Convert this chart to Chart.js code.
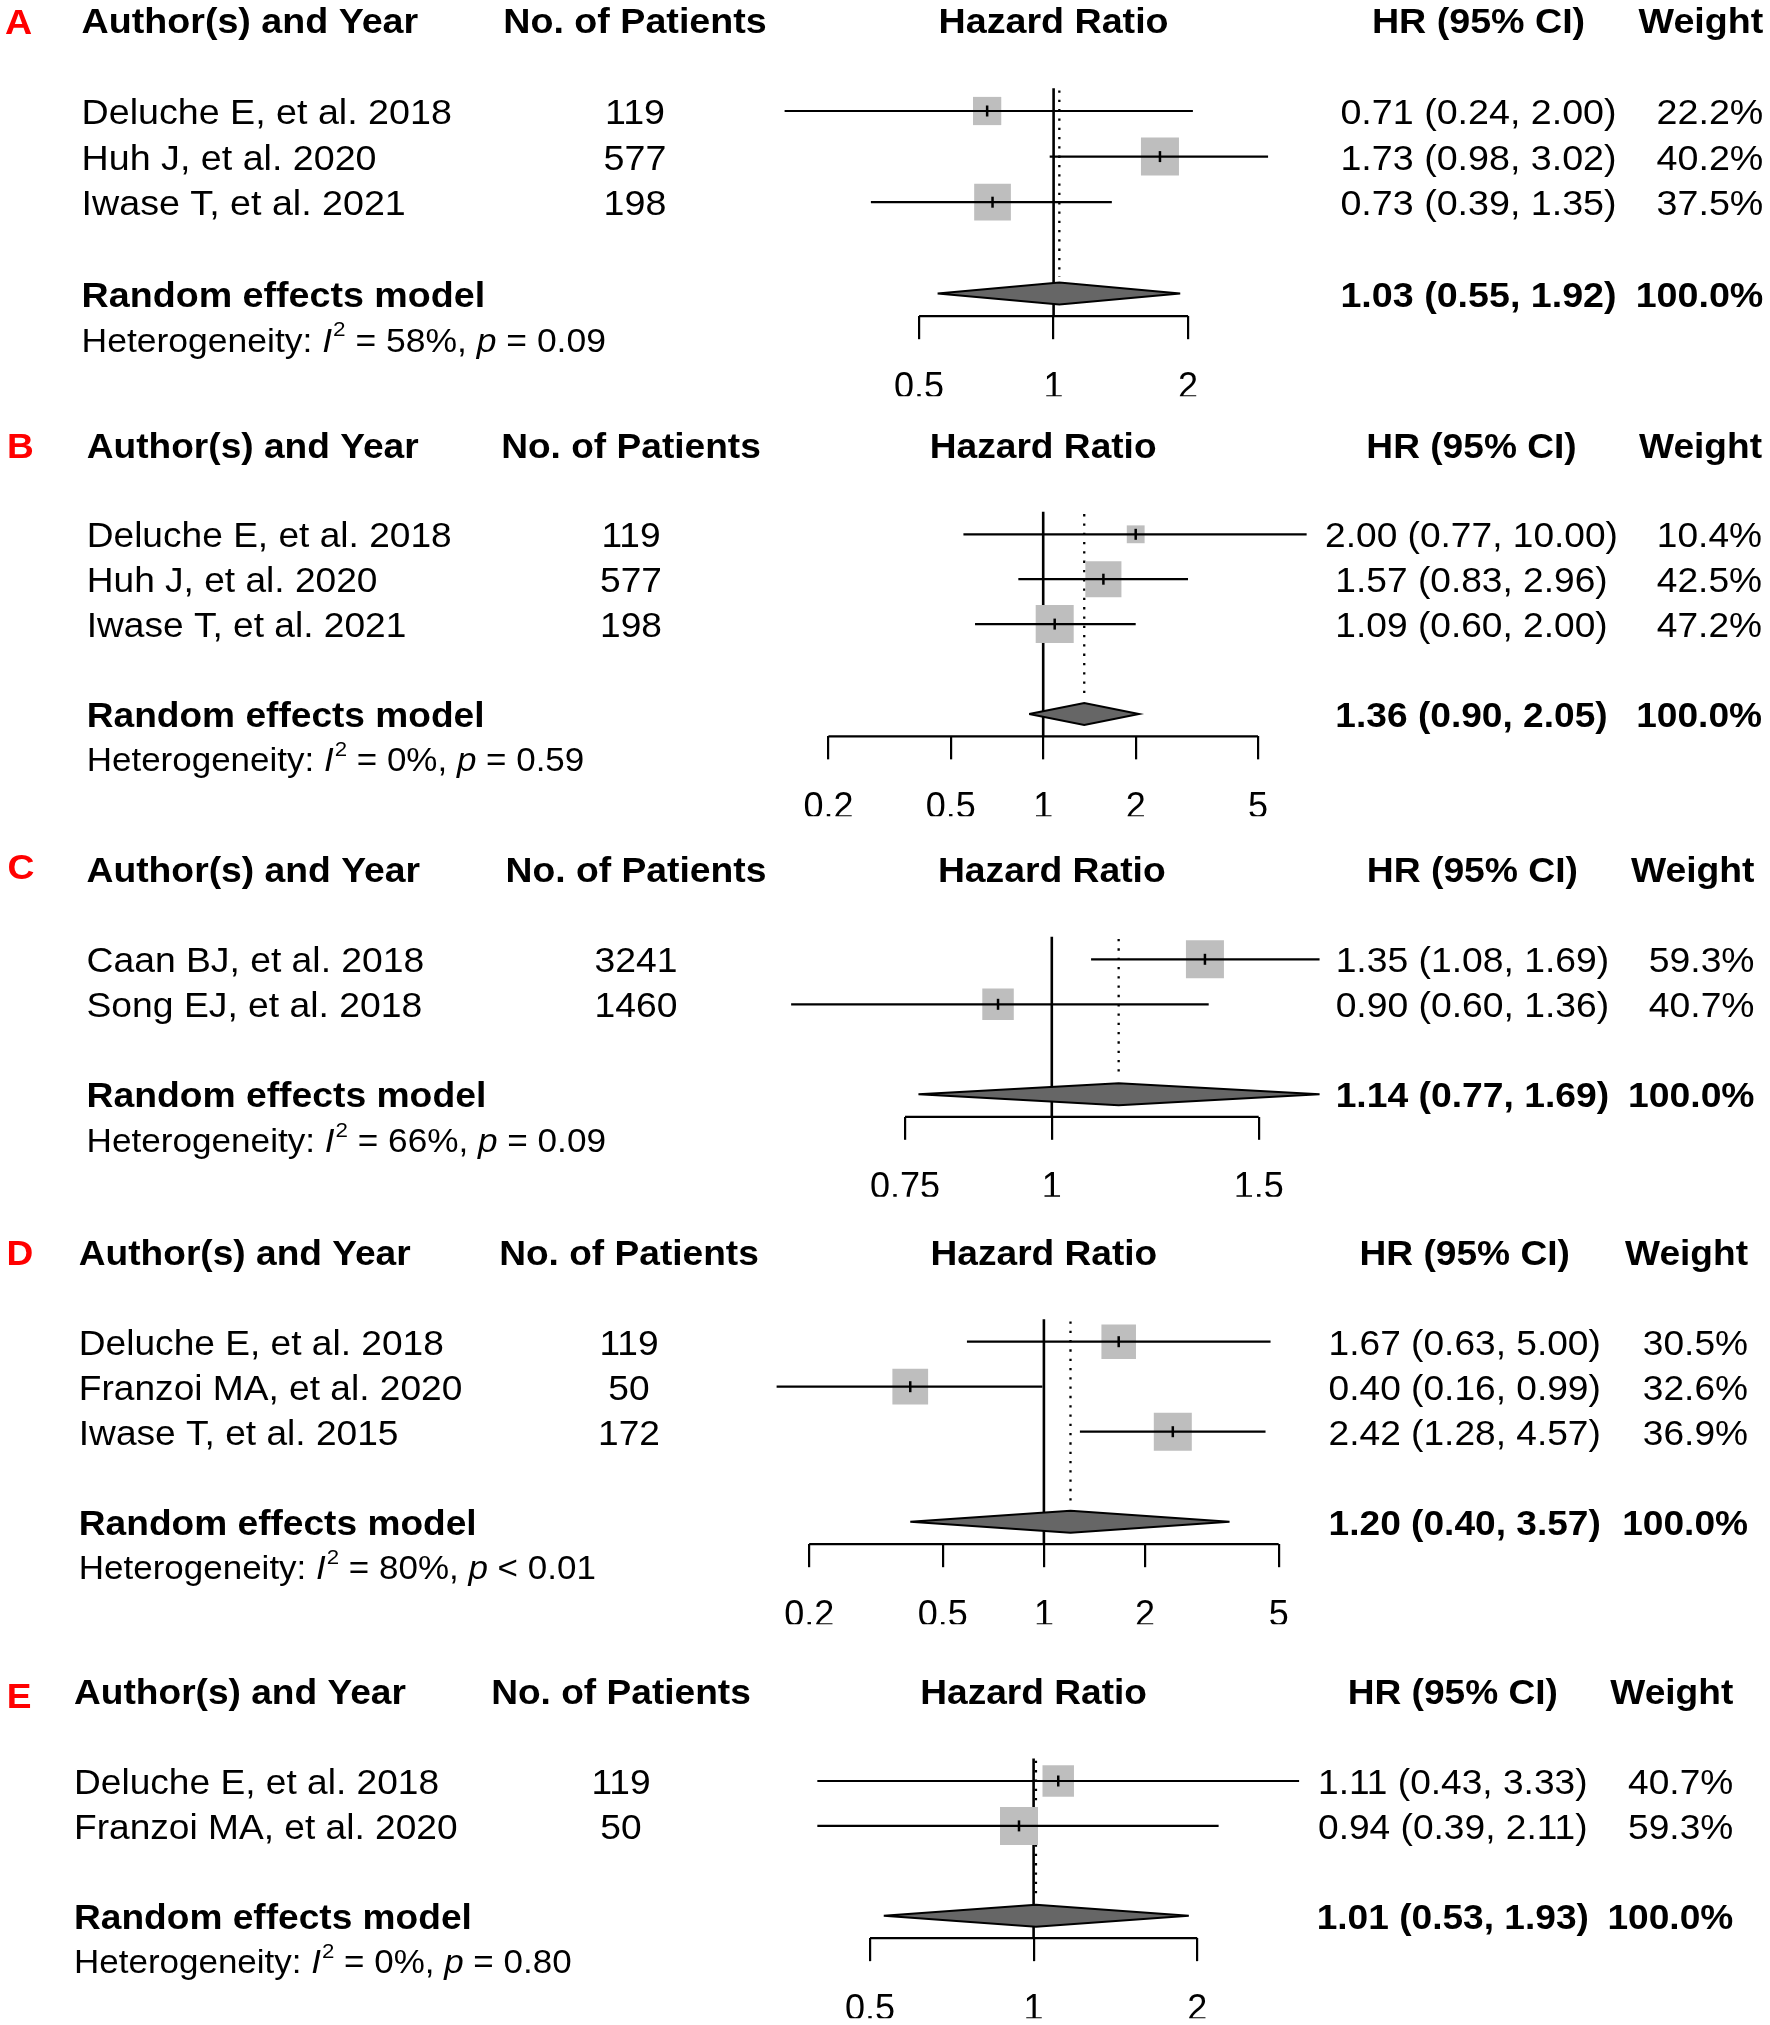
<!DOCTYPE html>
<html><head><meta charset="utf-8">
<script src="https://cdn.jsdelivr.net/npm/chart.js@4.4.1/dist/chart.umd.min.js"></script>
<style>
html,body{margin:0;padding:0;background:#fff;}
#wrap{position:relative;width:1770px;height:2025px;background:#fff;overflow:hidden;}
#wrap canvas{position:absolute;left:0;}
</style></head>
<body><div id="wrap"></div>
<script>
// ---------------- DATA ----------------
// Panel A
const studiesA = ["Deluche E, et al. 2018", "Huh J, et al. 2020", "Iwase T, et al. 2021"];
const patientsA = [119, 577, 198];
const hrA = [0.71, 1.73, 0.73];
const lowerA = [0.25, 0.98, 0.39];
const upperA = [2.05, 3.02, 1.35];
const weightA = [22.2, 40.2, 37.5];
const ciTextA = ["0.71 (0.24, 2.00)", "1.73 (0.98, 3.02)", "0.73 (0.39, 1.35)"];
const pooledA = [1.03, 0.55, 1.92];
const pooledTextA = "1.03 (0.55, 1.92)";
const hetA = ["58%", "=", "0.09"];
const ticksA = [0.5, 1, 2];
const tickLabelsA = ["0.5", "1", "2"];

// Panel B
const studiesB = ["Deluche E, et al. 2018", "Huh J, et al. 2020", "Iwase T, et al. 2021"];
const patientsB = [119, 577, 198];
const hrB = [2.00, 1.57, 1.09];
const lowerB = [0.55, 0.83, 0.60];
const upperB = [7.2, 2.96, 2.00];
const weightB = [10.4, 42.5, 47.2];
const ciTextB = ["2.00 (0.77, 10.00)", "1.57 (0.83, 2.96)", "1.09 (0.60, 2.00)"];
const pooledB = [1.36, 0.90, 2.05];
const pooledTextB = "1.36 (0.90, 2.05)";
const hetB = ["0%", "=", "0.59"];
const ticksB = [0.2, 0.5, 1, 2, 5];
const tickLabelsB = ["0.2", "0.5", "1", "2", "5"];

// Panel C
const studiesC = ["Caan BJ, et al. 2018", "Song EJ, et al. 2018"];
const patientsC = [3241, 1460];
const hrC = [1.35, 0.90];
const lowerC = [1.08, 0.60];
const upperC = [1.69, 1.36];
const weightC = [59.3, 40.7];
const ciTextC = ["1.35 (1.08, 1.69)", "0.90 (0.60, 1.36)"];
const pooledC = [1.14, 0.77, 1.69];
const pooledTextC = "1.14 (0.77, 1.69)";
const hetC = ["66%", "=", "0.09"];
const ticksC = [0.75, 1, 1.5];
const tickLabelsC = ["0.75", "1", "1.5"];

// Panel D
const studiesD = ["Deluche E, et al. 2018", "Franzoi MA, et al. 2020", "Iwase T, et al. 2015"];
const patientsD = [119, 50, 172];
const hrD = [1.67, 0.40, 2.42];
const lowerD = [0.59, 0.16, 1.28];
const upperD = [4.73, 0.99, 4.57];
const weightD = [30.5, 32.6, 36.9];
const ciTextD = ["1.67 (0.63, 5.00)", "0.40 (0.16, 0.99)", "2.42 (1.28, 4.57)"];
const pooledD = [1.20, 0.40, 3.57];
const pooledTextD = "1.20 (0.40, 3.57)";
const hetD = ["80%", "<", "0.01"];
const ticksD = [0.2, 0.5, 1, 2, 5];
const tickLabelsD = ["0.2", "0.5", "1", "2", "5"];

// Panel E
const studiesE = ["Deluche E, et al. 2018", "Franzoi MA, et al. 2020"];
const patientsE = [119, 50];
const hrE = [1.11, 0.94];
const lowerE = [0.40, 0.40];
const upperE = [3.08, 2.19];
const weightE = [40.7, 59.3];
const ciTextE = ["1.11 (0.43, 3.33)", "0.94 (0.39, 2.11)"];
const pooledE = [1.01, 0.53, 1.93];
const pooledTextE = "1.01 (0.53, 1.93)";
const hetE = ["0%", "=", "0.80"];
const ticksE = [0.5, 1, 2];
const tickLabelsE = ["0.5", "1", "2"];

// ---------------- LAYOUT (page pixels) ----------------
const layoutA = {top:0,    height:425, y0:19.8,   dy:45.6, xOne:1053.6, perDoubling:134.5, xmin:0.22, xmax:3.5,  letterX:5,   letterDy:1.4, authorX:81.6, npX:635, hrX:1478.5, wX:1763.3, sx:1.075};
const layoutB = {top:425,  height:420, y0:444.5,  dy:44.9, xOne:1043.2, perDoubling:92.5,  xmin:0.15, xmax:8,    letterX:7,   letterDy:0,   authorX:86.7, npX:631, hrX:1471.5, wX:1762,   sx:1.06};
const layoutC = {top:845,  height:390, y0:869.3,  dy:45,   xOne:1051.8, perDoubling:353.7, xmin:0.58, xmax:1.75, letterX:7.5, letterDy:-3,  authorX:86.5, npX:636, hrX:1472.4, wX:1754.5, sx:1.065};
const layoutD = {top:1235, height:425, y0:1251.7, dy:45,   xOne:1043.9, perDoubling:101.1, xmin:0.15, xmax:5.5,  letterX:6.5, letterDy:0,   authorX:78.8, npX:629, hrX:1464.7, wX:1748,   sx:1.06};
const layoutE = {top:1660, height:365, y0:1691.2, dy:44.9, xOne:1033.6, perDoubling:163.6, xmin:0.38, xmax:3.2,  letterX:6.7, letterDy:4,   authorX:74,   npX:621, hrX:1452.8, wX:1733.3, sx:1.06};

const FONT = '"Liberation Sans", Arial, Helvetica, sans-serif';
const SIZE = 35, HET = 33, SUP = 21, TICK = 36;
const TEXT_DY = 3.5;        // canvas 'middle' baseline correction
const SQUARE_MAX = 38;      // side of the heaviest study's square (px)
const DIAMOND_HALF = 11;    // px

const panels = [
  {letter:'A', studies:studiesA, patients:patientsA, hr:hrA, lower:lowerA, upper:upperA, weight:weightA, ciText:ciTextA, pooled:pooledA, pooledText:pooledTextA, het:hetA, ticks:ticksA, tickLabels:tickLabelsA, L:layoutA},
  {letter:'B', studies:studiesB, patients:patientsB, hr:hrB, lower:lowerB, upper:upperB, weight:weightB, ciText:ciTextB, pooled:pooledB, pooledText:pooledTextB, het:hetB, ticks:ticksB, tickLabels:tickLabelsB, L:layoutB},
  {letter:'C', studies:studiesC, patients:patientsC, hr:hrC, lower:lowerC, upper:upperC, weight:weightC, ciText:ciTextC, pooled:pooledC, pooledText:pooledTextC, het:hetC, ticks:ticksC, tickLabels:tickLabelsC, L:layoutC},
  {letter:'D', studies:studiesD, patients:patientsD, hr:hrD, lower:lowerD, upper:upperD, weight:weightD, ciText:ciTextD, pooled:pooledD, pooledText:pooledTextD, het:hetD, ticks:ticksD, tickLabels:tickLabelsD, L:layoutD},
  {letter:'E', studies:studiesE, patients:patientsE, hr:hrE, lower:lowerE, upper:upperE, weight:weightE, ciText:ciTextE, pooled:pooledE, pooledText:pooledTextE, het:hetE, ticks:ticksE, tickLabels:tickLabelsE, L:layoutE}
];

function txt(ctx, s, x, y, o) {
  o = o || {};
  ctx.save();
  ctx.font = (o.style || 'normal') + ' ' + (o.weight || 'normal') + ' ' + (o.size || SIZE) + 'px ' + FONT;
  ctx.fillStyle = o.color || '#000';
  ctx.textBaseline = 'middle';
  ctx.textAlign = o.align || 'left';
  const sx = o.sx || 1.06;
  ctx.translate(x, y + TEXT_DY);
  ctx.scale(sx, 1);
  ctx.fillText(s, 0, 0);
  const w = ctx.measureText(s).width * sx;
  ctx.restore();
  return w;
}

const wrap = document.getElementById('wrap');

function makePanel(p) {
  const L = p.L;
  const W = 1770;
  const canvas = document.createElement('canvas');
  canvas.width = W; canvas.height = L.height;
  canvas.style.top = L.top + 'px';
  canvas.style.width = W + 'px'; canvas.style.height = L.height + 'px';
  wrap.appendChild(canvas);

  const n = p.studies.length;
  const rowOf = i => i + 2;
  const dRow = n + 3, axisRow = n + 3.5, hetRow = n + 4;
  const AXIS_H = 80;
  const chartBottom = L.y0 + axisRow * L.dy - L.top;
  const px = v => L.xOne + L.perDoubling * Math.log2(v);
  const pad = {
    top: L.y0 - L.top,
    bottom: L.height - chartBottom - AXIS_H,
    left: px(L.xmin),
    right: W - px(L.xmax)
  };
  const wmax = Math.max.apply(null, p.weight);
  const dh = DIAMOND_HALF / L.dy;
  const black = '#000';
  const sx = L.sx;

  const datasets = [];
  // pooled diamond
  datasets.push({type:'line', order:0, clip:false,
    data:[{x:p.pooled[1], y:dRow}, {x:p.pooled[0], y:dRow - dh}, {x:p.pooled[2], y:dRow}, {x:p.pooled[0], y:dRow + dh}, {x:p.pooled[1], y:dRow}],
    borderColor:black, borderWidth:2, backgroundColor:'#666666', fill:'shape', pointRadius:0, tension:0, borderJoinStyle:'miter'});
  // estimate ticks inside squares
  datasets.push({type:'scatter', order:1, clip:false,
    data:p.hr.map((v, i) => ({x:v, y:rowOf(i)})),
    pointStyle:'line', pointRotation:90, pointRadius:5.5, pointBorderColor:black, pointBorderWidth:2.5, pointBackgroundColor:black});
  // CI lines
  p.hr.forEach((v, i) => {
    datasets.push({type:'line', order:2, clip:false,
      data:[{x:p.lower[i], y:rowOf(i)}, {x:p.upper[i], y:rowOf(i)}],
      borderColor:black, borderWidth:2.2, pointRadius:0, fill:false});
  });
  // weighted squares
  datasets.push({type:'scatter', order:3, clip:false,
    data:p.hr.map((v, i) => ({x:v, y:rowOf(i)})),
    pointStyle:'rect', pointRadius:p.weight.map(w => SQUARE_MAX * Math.sqrt(w / wmax) / Math.SQRT2),
    pointBackgroundColor:'#BEBEBE', pointBorderWidth:0, pointBorderColor:'rgba(0,0,0,0)'});
  // no-effect line
  datasets.push({type:'line', order:4, clip:false,
    data:[{x:1, y:1.5}, {x:1, y:axisRow}], borderColor:black, borderWidth:2.6, pointRadius:0, fill:false});
  // pooled dotted line
  datasets.push({type:'line', order:4, clip:false,
    data:[{x:p.pooled[0], y:1.55}, {x:p.pooled[0], y:dRow - 0.36}], borderColor:black, borderWidth:2.3, borderDash:[2.3, 7], pointRadius:0, fill:false});
  // axis baseline between first and last tick
  datasets.push({type:'line', order:5, clip:false,
    data:[{x:p.ticks[0], y:axisRow}, {x:p.ticks[p.ticks.length - 1], y:axisRow}], borderColor:black, borderWidth:2.2, pointRadius:0, fill:false});

  const textPlugin = {
    id:'forestText' + p.letter,
    afterDraw(chart) {
      const ctx = chart.ctx;
      const ys = chart.scales.y, xs = chart.scales.x;
      const Y = r => ys.getPixelForValue(r);
      const hy = Y(0);
      // panel letter
      txt(ctx, p.letter, L.letterX, hy + L.letterDy, {weight:'bold', color:'#FF0000', sx:sx});
      // headers
      txt(ctx, 'Author(s) and Year', L.authorX, hy, {weight:'bold', sx:sx});
      txt(ctx, 'No. of Patients', L.npX, hy, {weight:'bold', align:'center', sx:sx});
      txt(ctx, 'Hazard Ratio', xs.getPixelForValue(1), hy, {weight:'bold', align:'center', sx:sx});
      txt(ctx, 'HR (95% CI)', L.hrX, hy, {weight:'bold', align:'center', sx:sx});
      txt(ctx, 'Weight', L.wX, hy, {weight:'bold', align:'right', sx:sx});
      // study rows
      p.studies.forEach((s, i) => {
        const y = Y(rowOf(i));
        txt(ctx, s, L.authorX, y, {sx:sx});
        txt(ctx, String(p.patients[i]), L.npX, y, {align:'center', sx:sx});
        txt(ctx, p.ciText[i], L.hrX, y, {align:'center', sx:sx});
        txt(ctx, p.weight[i].toFixed(1) + '%', L.wX, y, {align:'right', sx:sx});
      });
      // pooled row
      const yd = Y(dRow);
      txt(ctx, 'Random effects model', L.authorX, yd, {weight:'bold', sx:sx});
      txt(ctx, p.pooledText, L.hrX, yd, {weight:'bold', align:'center', sx:sx});
      txt(ctx, '100.0%', L.wX, yd, {weight:'bold', align:'right', sx:sx});
      // heterogeneity
      const yh = Y(hetRow);
      let x = L.authorX;
      x += txt(ctx, 'Heterogeneity: ', x, yh, {size:HET, sx:sx});
      x += txt(ctx, 'I', x, yh, {size:HET, style:'italic', sx:sx});
      x += txt(ctx, '2', x + 1, yh - 12, {size:SUP, sx:sx}) + 1;
      x += txt(ctx, ' = ' + p.het[0] + ', ', x, yh, {size:HET, sx:sx});
      x += txt(ctx, 'p', x, yh, {size:HET, style:'italic', sx:sx});
      txt(ctx, ' ' + p.het[1] + ' ' + p.het[2], x, yh, {size:HET, sx:sx});
    }
  };

  new Chart(canvas, {
    type:'scatter',
    data:{datasets:datasets},
    options:{
      responsive:false, animation:false, devicePixelRatio:1, events:[],
      layout:{autoPadding:false, padding:pad},
      plugins:{legend:{display:false}, tooltip:{enabled:false}},
      scales:{
        x:{
          type:'logarithmic', position:'bottom', min:L.xmin, max:L.xmax,
          afterBuildTicks:(s) => { s.ticks = p.ticks.map(v => ({value:v})); },
          afterFit:(s) => { s.height = AXIS_H; },
          grid:{display:true, drawOnChartArea:false, drawTicks:true, tickLength:23, tickWidth:2.2, tickColor:black, color:black, lineWidth:2.2},
          border:{display:false},
          ticks:{autoSkip:false, maxRotation:0, minRotation:0, padding:27, color:black,
            font:{family:FONT, size:TICK, lineHeight:1.2},
            callback:(v, i) => p.tickLabels[i]}
        },
        y:{type:'linear', display:false, reverse:true, min:0, max:axisRow}
      }
    },
    plugins:[textPlugin]
  });
}

panels.forEach(makePanel);
</script>
</body></html>
